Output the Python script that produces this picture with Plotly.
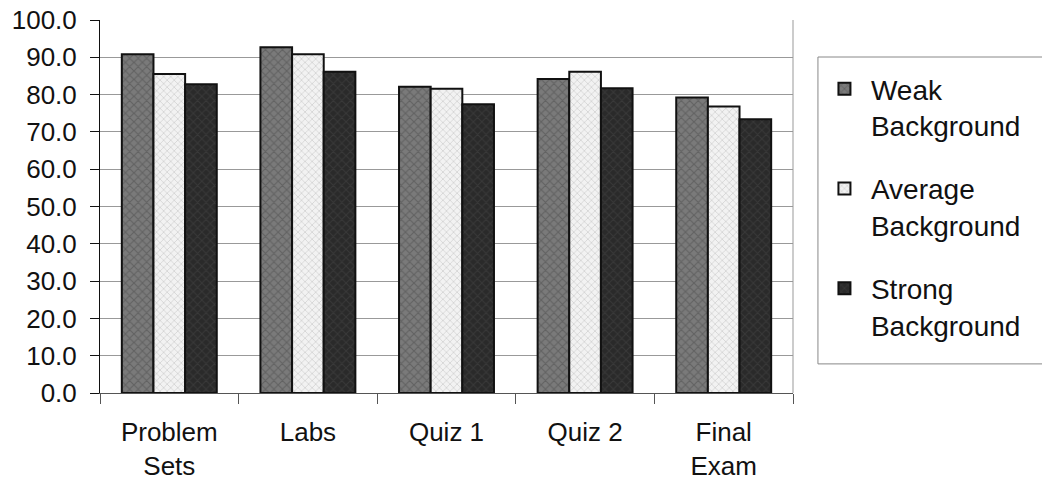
import plotly.graph_objects as go

categories = ["Problem<br>Sets", "Labs", "Quiz 1", "Quiz 2", "Final<br>Exam"]
weak = [90.8, 92.7, 82.1, 84.2, 79.2]
average = [85.5, 90.8, 81.6, 86.1, 76.8]
strong = [82.8, 86.1, 77.4, 81.7, 73.4]
series_names = ["Weak<br>Background", "Average<br>Background", "Strong<br>Background"]
y_ticks = [0, 10, 20, 30, 40, 50, 60, 70, 80, 90, 100]

styles = [
    dict(color="#7a7a7a", fg="#4a4a4a", size=6, solidity=0.35),
    dict(color="#f2f2f2", fg="#b5b5b5", size=5, solidity=0.3),
    dict(color="#2a2a2a", fg="#474747", size=6, solidity=0.3),
]

fig = go.Figure()
for name, vals, st, grp in zip(series_names, [weak, average, strong], styles, ["w", "a", "s"]):
    fig.add_trace(go.Bar(
        x=categories, y=vals, name=name, legendgroup=grp,
        marker=dict(
            color=st["color"],
            line=dict(color="#111111", width=2),
            pattern=dict(shape="x", fgcolor=st["fg"], size=st["size"],
                         solidity=st["solidity"], fillmode="overlay"),
        ),
    ))

font = dict(family="Liberation Sans, Arial, sans-serif", size=26, color="#111111")
legend_font = dict(family="Liberation Sans, Arial, sans-serif", size=28, color="#111111")

fig.update_layout(
    width=1042, height=482,
    margin=dict(l=100, r=249, t=20, b=89, autoexpand=False),
    paper_bgcolor="white", plot_bgcolor="white",
    font=font,
    barmode="group", bargap=0.315, bargroupgap=0,
    showlegend=True,
    legend=dict(
        x=1.036, y=0.882, xanchor="left", yanchor="top",
        borderwidth=0, bgcolor="rgba(0,0,0,0)",
        font=legend_font, tracegroupgap=24, traceorder="grouped",
        valign="top", itemwidth=43,
    ),
    xaxis=dict(
        showline=True, linecolor="#555555", linewidth=1,
        ticks="outside", ticklen=10, tickcolor="#555555", tickson="boundaries",
        showgrid=False, tickfont=font, ticklabelstandoff=16, automargin=False,
    ),
    yaxis=dict(
        range=[0, 100], tickvals=y_ticks,
        ticktext=[f"{v:.1f}" for v in y_ticks],
        showline=True, linecolor="#111111", linewidth=1,
        ticks="outside", ticklen=9, tickcolor="#111111",
        showgrid=True, gridcolor="#999999", gridwidth=1,
        zeroline=False, tickfont=font, ticklabelstandoff=8, automargin=False,
    ),
)

# Right edge of the plotting area
fig.add_shape(type="line", xref="paper", yref="paper", x0=1, x1=1, y0=0, y1=1,
              line=dict(color="#999999", width=1))

# Frame around the legend, running off the right edge of the page
fig.add_shape(type="rect", xref="paper", yref="paper",
              x0=1.036, x1=1.37, y0=0.078, y1=0.9008,
              line=dict(color="#888888", width=1), fillcolor="rgba(0,0,0,0)",
              layer="below")

fig.write_html("out.html")
